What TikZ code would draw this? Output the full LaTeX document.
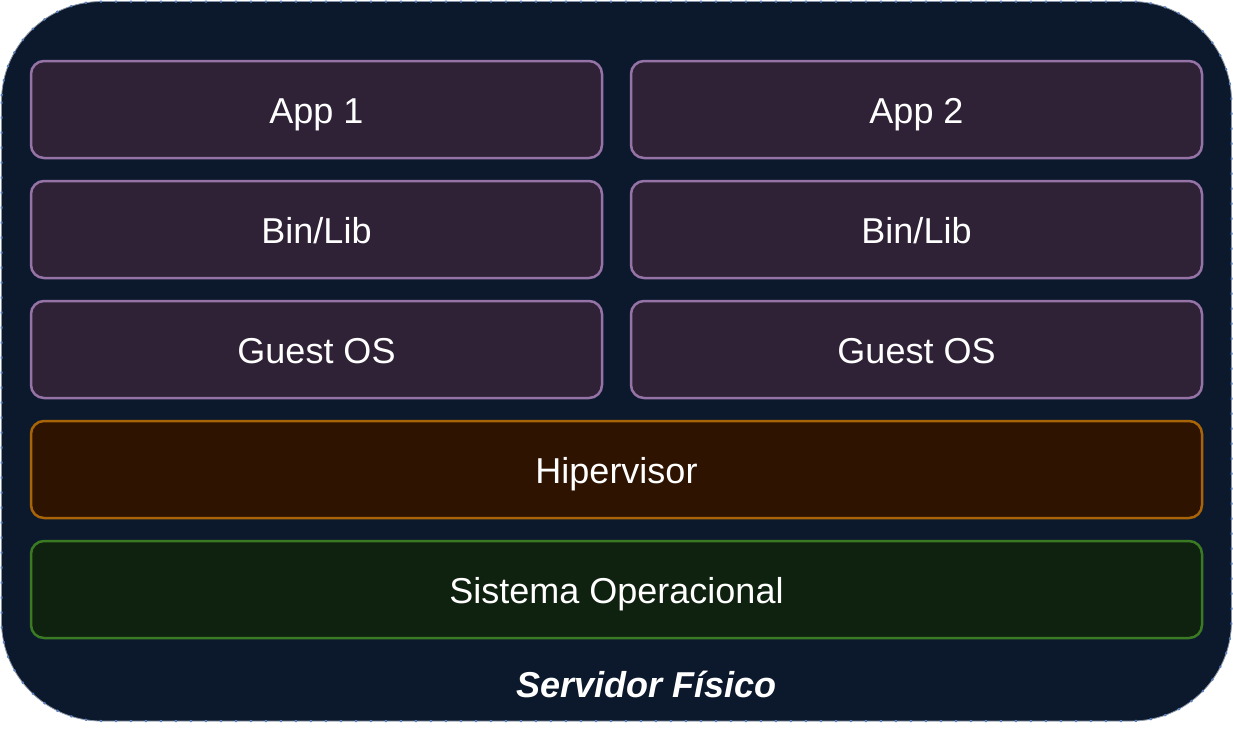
\documentclass[tikz,border=0pt]{standalone}
\usepackage{fontspec}
\setmainfont{Liberation Sans}
\definecolor{outerfill}{HTML}{0C192D}
\definecolor{outerdot}{HTML}{5B82BE}
\definecolor{outerline}{HTML}{8A96A8}
\definecolor{pfill}{HTML}{2F2236}
\definecolor{pline}{HTML}{9673A6}
\definecolor{ofill}{HTML}{2D1300}
\definecolor{oline}{HTML}{A86406}
\definecolor{gfill}{HTML}{0F210F}
\definecolor{gline}{HTML}{3A7A22}
\tikzset{
  txt/.style={text=white, font=\fontsize{36}{43}\selectfont, text height=27pt, text depth=0pt},
  layer/.style={txt, rounded corners=13pt, line width=2.5pt, minimum height=97pt, inner sep=0pt},
  vmbox/.style={layer, draw=pline, fill=pfill, minimum width=571pt},
  hyperbox/.style={layer, draw=oline, fill=ofill, minimum width=1171pt},
  osbox/.style={layer, draw=gline, fill=gfill, minimum width=1171pt},
}
\begin{document}
\begin{tikzpicture}[x=1pt,y=-1pt]
\useasboundingbox[fill=white] (0,0) rectangle (1233,729);
% outer server
\draw[fill=outerfill, draw=outerline, line width=0.8pt, rounded corners=100pt] (1.5,1.5) rectangle (1231.5,721);
\draw[draw=outerdot, line width=2pt, dash pattern=on 2pt off 13pt, rounded corners=100pt] (1.5,1.5) rectangle (1231.5,721);
\node[vmbox] (app1) at (316.5,109.5) {App 1};
\node[vmbox] (app2) at (916.5,109.5) {App 2};
\node[vmbox] (bin1) at (316.5,229.5) {Bin/Lib};
\node[vmbox] (bin2) at (916.5,229.5) {Bin/Lib};
\node[vmbox] (gos1) at (316.5,349.5) {Guest OS};
\node[vmbox] (gos2) at (916.5,349.5) {Guest OS};
\node[hyperbox] (hyp) at (616.5,469.5) {Hipervisor};
\node[osbox] (sos) at (616.5,589.5) {Sistema Operacional};
\node[txt, font=\fontsize{36}{43}\selectfont\bfseries\itshape] (srv) at (646.5,684) {Servidor Físico};
\end{tikzpicture}
\end{document}
